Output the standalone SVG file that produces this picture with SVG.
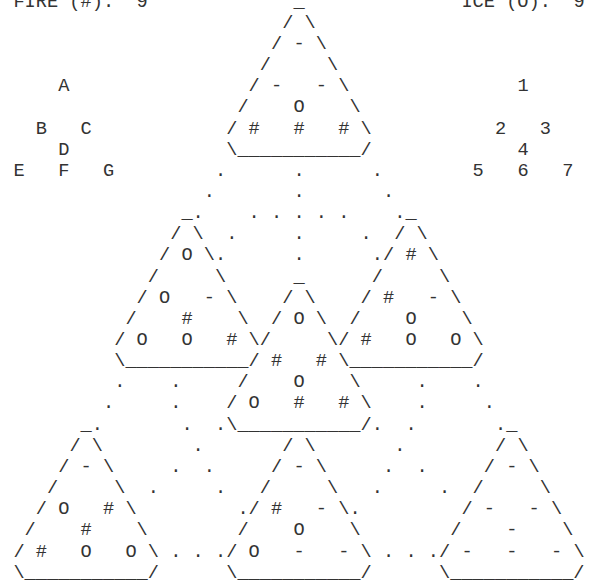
<svg xmlns="http://www.w3.org/2000/svg" width="589" height="583" viewBox="0 0 589 583">
<style>
text{font-family:"Liberation Mono","Courier New",monospace;font-size:18.667px;fill:#333}
</style>
<rect width="589" height="583" fill="#fff"/>
<g id="titles">
<text x="13.4" y="6.6">FIRE (#):</text><text x="136.6" y="6.6">9</text>
<text x="461.4" y="6.6">ICE (O):</text><text x="573.4" y="6.6">9</text>
</g>
<g id="legend-letters">
<text x="58.2" y="91.2">A</text>
<text x="35.8 80.6" y="133.5">BC</text>
<text x="58.2" y="154.65">D</text>
<text x="13.4 58.2 103" y="175.8">EFG</text>
</g>
<g id="legend-numbers">
<text x="517.4" y="91.2">1</text>
<text x="495 539.8" y="133.5">23</text>
<text x="517.4" y="154.65">4</text>
<text x="472.6 517.4 562.2" y="175.8">567</text>
</g>
<g id="connectors">
<text x="215 293.4 371.8" y="175.8">...</text>
<text x="203.8 293.4 383" y="196.95">...</text>
<text x="192.6 248.6 271 293.4 315.8 338.2 394.2" y="218.1">.......</text>
<text x="226.2 293.4 360.6" y="239.25">...</text>
<text x="215 293.4 371.8" y="260.4">...</text>
<text x="114.2 170.2 416.6 472.6" y="387.3">....</text>
<text x="103 170.2 416.6 483.8" y="408.45">....</text>
<text x="91.8 181.4 215 371.8 405.4 495" y="429.6">......</text>
<text x="192.6 394.2" y="450.75">..</text>
<text x="170.2 203.8 383 416.6" y="471.9">....</text>
<text x="147.8 215 371.8 439" y="493.05">....</text>
<text x="237.4 349.4" y="514.2">..</text>
<text x="170.2 192.6 215 383 405.4 427.8" y="556.5">......</text>
</g>
<g id="tri-top">
<text x="293.4" y="6.6">_</text>
<text x="282.2 304.6" y="27.75">/\</text>
<text x="271 293.4 315.8" y="48.9">/-\</text>
<text x="259.8 327" y="70.05">/\</text>
<text x="248.6 271 315.8 338.2" y="91.2">/--\</text>
<text x="237.4 293.4 349.4" y="112.35">/O\</text>
<text x="226.2 248.6 293.4 338.2 360.6" y="133.5">/###\</text>
<text x="226.2" y="154.65">\___________/</text>
</g>
<g id="tri-left">
<text x="181.4" y="218.1">_</text>
<text x="170.2 192.6" y="239.25">/\</text>
<text x="159 181.4 203.8" y="260.4">/O\</text>
<text x="147.8 215" y="281.55">/\</text>
<text x="136.6 159 203.8 226.2" y="302.7">/O-\</text>
<text x="125.4 181.4 237.4" y="323.85">/#\</text>
<text x="114.2 136.6 181.4 226.2 248.6" y="345">/OO#\</text>
<text x="114.2" y="366.15">\___________/</text>
</g>
<g id="tri-right">
<text x="405.4" y="218.1">_</text>
<text x="394.2 416.6" y="239.25">/\</text>
<text x="383 405.4 427.8" y="260.4">/#\</text>
<text x="371.8 439" y="281.55">/\</text>
<text x="360.6 383 427.8 450.2" y="302.7">/#-\</text>
<text x="349.4 405.4 461.4" y="323.85">/O\</text>
<text x="338.2 360.6 405.4 450.2 472.6" y="345">/#OO\</text>
<text x="338.2" y="366.15">\___________/</text>
</g>
<g id="tri-middle">
<text x="293.4" y="281.55">_</text>
<text x="282.2 304.6" y="302.7">/\</text>
<text x="271 293.4 315.8" y="323.85">/O\</text>
<text x="259.8 327" y="345">/\</text>
<text x="271 315.8" y="366.15">##</text>
<text x="237.4 293.4 349.4" y="387.3">/O\</text>
<text x="226.2 248.6 293.4 338.2 360.6" y="408.45">/O##\</text>
<text x="226.2" y="429.6">\___________/</text>
</g>
<g id="tri-bottom-left">
<text x="80.6" y="429.6">_</text>
<text x="69.4 91.8" y="450.75">/\</text>
<text x="58.2 80.6 103" y="471.9">/-\</text>
<text x="47 114.2" y="493.05">/\</text>
<text x="35.8 58.2 103 125.4" y="514.2">/O#\</text>
<text x="24.6 80.6 136.6" y="535.35">/#\</text>
<text x="13.4 35.8 80.6 125.4 147.8" y="556.5">/#OO\</text>
<text x="13.4" y="577.65">\___________/</text>
</g>
<g id="tri-bottom-middle">
<text x="282.2 304.6" y="450.75">/\</text>
<text x="271 293.4 315.8" y="471.9">/-\</text>
<text x="259.8 327" y="493.05">/\</text>
<text x="248.6 271 315.8 338.2" y="514.2">/#-\</text>
<text x="237.4 293.4 349.4" y="535.35">/O\</text>
<text x="226.2 248.6 293.4 338.2 360.6" y="556.5">/O--\</text>
<text x="226.2" y="577.65">\___________/</text>
</g>
<g id="tri-bottom-right">
<text x="506.2" y="429.6">_</text>
<text x="495 517.4" y="450.75">/\</text>
<text x="483.8 506.2 528.6" y="471.9">/-\</text>
<text x="472.6 539.8" y="493.05">/\</text>
<text x="461.4 483.8 528.6 551" y="514.2">/--\</text>
<text x="450.2 506.2 562.2" y="535.35">/-\</text>
<text x="439 461.4 506.2 551 573.4" y="556.5">/---\</text>
<text x="439" y="577.65">\___________/</text>
</g>
</svg>
